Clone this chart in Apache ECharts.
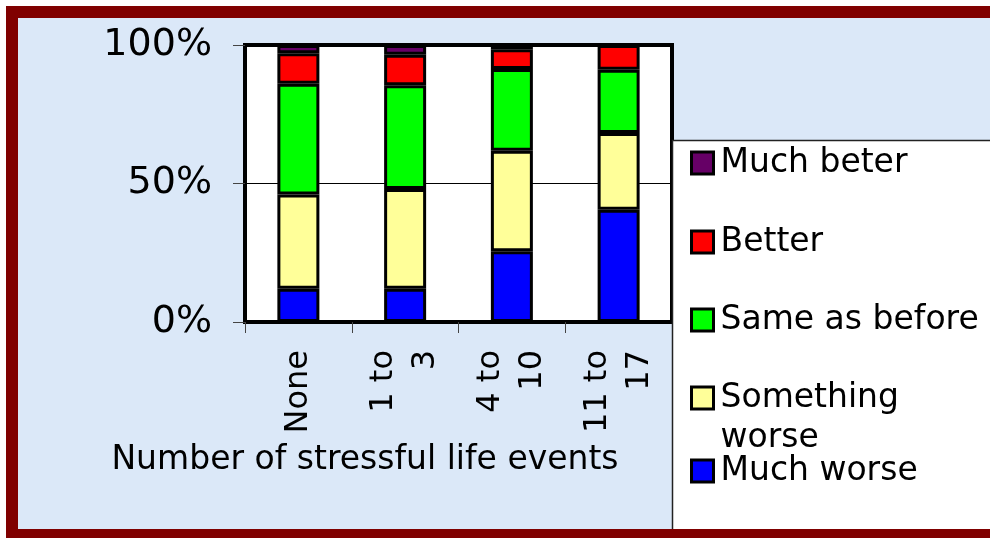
<!DOCTYPE html>
<html>
<head>
<meta charset="utf-8">
<title>Number of stressful life events</title>
<script src="https://cdn.jsdelivr.net/npm/echarts@6/dist/echarts.min.js"></script>
<style>
  html, body { margin: 0; padding: 0; background: #fff; }
  #main { width: 990px; height: 538px; }
</style>
</head>
<body>
<div id="main"></div>
<script>
var categories = ['None', '1 to 3', '4 to 10', '11 to 17'];
var muchWorse = [12, 12, 25.5, 40.5];
var somethingWorse = [34, 36, 36.3, 27.7];
var sameAsBefore = [40, 37.5, 29.5, 22.9];
var better = [11, 11, 7.2, 8.9];
var muchBeter = [3, 3.5, 1.5, 0];
var yTicks = [0, 50, 100];

var seriesNames = ['Much worse', 'Something worse', 'Same as before', 'Better', 'Much beter'];
var seriesData = [muchWorse, somethingWorse, sameAsBefore, better, muchBeter];
var colors = ['#0000ff', '#ffff99', '#00ff00', '#ff0000', '#660066'];

var font = 'DejaVu Sans';
var frameRed = '#800000';

var myChart = echarts.init(document.getElementById('main'));

/* legend: one block per item, top to bottom */
var legendOrder = ['Much beter', 'Better', 'Same as before', 'Something worse', 'Much worse'];
var legendTops = [145, 224, 302, 338, 453];
var legends = legendOrder.map(function (name, i){
  return {
    data: [name],
    left: 690,
    top: legendTops[i],
    padding: 0,
    icon: 'rect',
    itemWidth: 22,
    itemHeight: 22,
    itemStyle: { borderColor: '#000', borderWidth: 3 },
    selectedMode: false,
    // empty first line keeps "Something" level with the icon
    formatter: function (n){ return n == 'Something worse' ? '\nSomething\nworse' : n; },
    textStyle: {
      fontFamily: font,
      fontSize: 33,
      color: '#000',
      lineHeight: name == 'Something worse' ? 40 : 36,
      padding: [0, 0, 0, 2]
    }
  };
});

var series = seriesNames.map(function (name, i){
  return {
    name: name,
    type: 'bar',
    stack: 'total',
    barWidth: 42,
    data: seriesData[i],
    itemStyle: { color: colors[i], borderColor: '#000', borderWidth: 3 }
  };
});

var option = {
  animation: false,
  backgroundColor: '#dbe8f8',
  color: colors,
  grid: {
    left: 245, right: 318, top: 45, bottom: 216,
    show: true,
    backgroundColor: '#fff',
    borderColor: '#000',
    borderWidth: 4
  },
  legend: legends,
  xAxis: {
    type: 'category',
    data: categories,
    axisLine: { show: false },
    axisTick: { show: true, length: 11, lineStyle: { color: '#444' } },
    axisLabel: {
      rotate: 90,
      margin: 28,
      fontFamily: font,
      fontSize: 32,
      lineHeight: 42,
      color: '#000',
      formatter: function (v){ return v.replace(' to ', ' to\n'); }
    },
    name: 'Number of stressful life events',
    nameLocation: 'middle',
    nameGap: 120,
    nameTextStyle: {
      fontFamily: font,
      fontSize: 33,
      lineHeight: 36,
      color: '#000',
      padding: [0, 187, 0, 0]
    }
  },
  yAxis: {
    type: 'value',
    min: yTicks[0],
    max: yTicks[yTicks.length - 1],
    interval: yTicks[1] - yTicks[0],
    axisLine: { show: false },
    axisTick: { show: true, length: 12, lineStyle: { color: '#444' } },
    splitLine: { show: true, lineStyle: { color: '#000', width: 1 } },
    axisLabel: {
      margin: 33,
      fontFamily: font,
      fontSize: 38,
      color: '#000',
      formatter: '{value}%'
    }
  },
  graphic: [
    /* slide frame: white margin, then dark red band (open on the right) */
    { type: 'rect', silent: true, shape: { x: 0, y: 0, width: 990, height: 6 }, style: { fill: '#fff' } },
    { type: 'rect', silent: true, shape: { x: 0, y: 0, width: 6, height: 538 }, style: { fill: '#fff' } },
    { type: 'rect', silent: true, shape: { x: 6, y: 6, width: 984, height: 12 }, style: { fill: frameRed } },
    { type: 'rect', silent: true, shape: { x: 6, y: 6, width: 12, height: 532 }, style: { fill: frameRed } },
    { type: 'rect', silent: true, shape: { x: 6, y: 529, width: 984, height: 9 }, style: { fill: frameRed } },
    /* legend panel */
    {
      type: 'rect',
      z: 3,
      silent: true,
      shape: { x: 672, y: 140, width: 318, height: 389 },
      style: { fill: '#fff' }
    },
    {
      type: 'polyline',
      z: 3,
      silent: true,
      shape: { points: [[672.5, 529], [672.5, 140.5], [990, 140.5]] },
      style: { fill: null, stroke: '#222', lineWidth: 1.5 }
    }
  ],
  series: series
};
myChart.setOption(option);
</script>
</body>
</html>
